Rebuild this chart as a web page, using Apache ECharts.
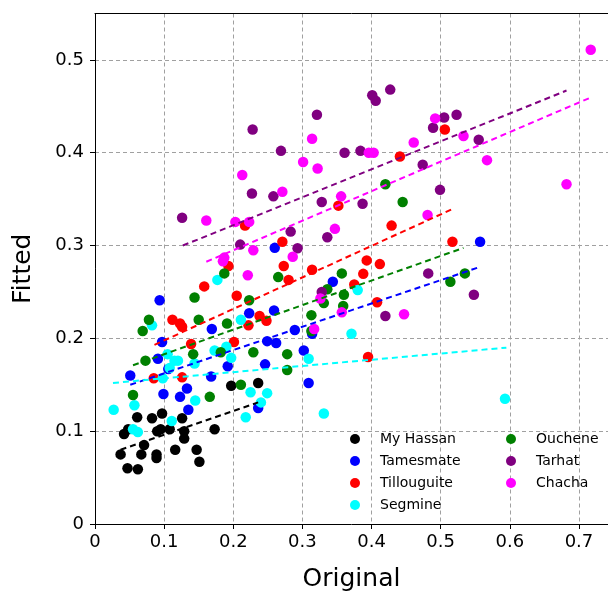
<!DOCTYPE html>
<html><head><meta charset="utf-8">
<script src="https://cdn.jsdelivr.net/npm/echarts@6/dist/echarts.min.js"></script>
<style>html,body{margin:0;padding:0;background:#fff}#c{width:608px;height:597px}</style>
</head><body><div id="c"></div>
<script>
const groupNames = ['My Hassan','Tamesmate','Tillouguite','Segmine','Ouchene','Tarhat','Chacha'];
const groupColors = ['#000000','#0000ff','#ff0000','#00ffff','#008000','#800080','#ff00ff'];
const xTicks = [0,0.1,0.2,0.3,0.4,0.5,0.6,0.7];
const yTicks = [0,0.1,0.2,0.3,0.4,0.5];

const hassanX = [0.061,0.0825,0.097,0.126,0.197,0.236,0.042,0.048,0.090,0.095,0.108,0.129,0.173,0.129,0.071,0.037,0.067,0.089,0.089,0.116,0.147,0.151,0.047,0.062];
const hassanY = [0.115,0.114,0.119,0.114,0.149,0.152,0.097,0.102,0.100,0.102,0.102,0.100,0.102,0.092,0.085,0.075,0.075,0.075,0.071,0.080,0.080,0.067,0.060,0.059];

const tamesmateX = [0.097,0.091,0.051,0.106,0.099,0.133,0.123,0.135,0.168,0.192,0.246,0.236,0.249,0.262,0.169,0.0935,0.223,0.259,0.260,0.344,0.289,0.314,0.302,0.309,0.557];
const tamesmateY = [0.196,0.178,0.160,0.167,0.140,0.146,0.137,0.123,0.159,0.170,0.172,0.125,0.197,0.195,0.210,0.241,0.227,0.230,0.2975,0.261,0.209,0.205,0.187,0.152,0.304];

const tillouguiteX = [0.085,0.126,0.139,0.201,0.112,0.123,0.126,0.158,0.205,0.193,0.217,0.222,0.238,0.248,0.271,0.273,0.352,0.429,0.517,0.314,0.280,0.393,0.412,0.388,0.375,0.408,0.395,0.506,0.441];
const tillouguiteY = [0.157,0.158,0.194,0.196,0.220,0.216,0.2125,0.256,0.246,0.278,0.3215,0.214,0.224,0.219,0.304,0.278,0.343,0.3215,0.304,0.274,0.263,0.284,0.280,0.2695,0.258,0.239,0.180,0.425,0.396];

const segmineX = [0.027,0.057,0.055,0.062,0.111,0.145,0.098,0.105,0.115,0.120,0.108,0.144,0.173,0.190,0.197,0.225,0.240,0.249,0.218,0.0825,0.177,0.211,0.380,0.371,0.309,0.331,0.593];
const segmineY = [0.123,0.128,0.102,0.099,0.111,0.133,0.157,0.183,0.176,0.176,0.168,0.173,0.187,0.191,0.179,0.142,0.131,0.141,0.115,0.214,0.263,0.220,0.252,0.205,0.178,0.119,0.135];

const oucheneX = [0.069,0.073,0.055,0.142,0.182,0.229,0.278,0.211,0.166,0.278,0.078,0.144,0.150,0.191,0.187,0.265,0.223,0.420,0.445,0.357,0.336,0.360,0.331,0.359,0.313,0.313,0.514,0.535];
const oucheneY = [0.208,0.176,0.139,0.183,0.185,0.185,0.183,0.150,0.137,0.166,0.220,0.244,0.220,0.216,0.270,0.266,0.241,0.366,0.347,0.270,0.253,0.247,0.238,0.235,0.225,0.208,0.261,0.270];

const tarhatX = [0.126,0.227,0.258,0.210,0.228,0.269,0.321,0.361,0.384,0.401,0.406,0.427,0.328,0.387,0.283,0.293,0.336,0.474,0.499,0.482,0.548,0.420,0.328,0.505,0.523,0.489,0.555];
const tarhatY = [0.330,0.356,0.353,0.301,0.425,0.402,0.441,0.400,0.402,0.462,0.456,0.468,0.347,0.345,0.315,0.297,0.309,0.387,0.360,0.270,0.247,0.224,0.250,0.438,0.441,0.427,0.414];

const chachaX = [0.213,0.161,0.203,0.223,0.271,0.229,0.187,0.185,0.221,0.286,0.314,0.301,0.322,0.356,0.396,0.403,0.347,0.481,0.447,0.357,0.326,0.317,0.717,0.492,0.461,0.533,0.567,0.682];
const chachaY = [0.376,0.327,0.3255,0.3255,0.358,0.295,0.287,0.283,0.268,0.288,0.415,0.390,0.383,0.353,0.400,0.400,0.318,0.333,0.226,0.228,0.243,0.210,0.511,0.437,0.411,0.418,0.392,0.366];

// fitted line endpoints [x0, x1], [y0, y1]
const fitX = [[0.037,0.236],[0.051,0.557],[0.086,0.516],[0.026,0.595],[0.055,0.533],[0.127,0.682],[0.161,0.717]];
const fitY = [[0.080,0.131],[0.150,0.277],[0.193,0.339],[0.152,0.190],[0.171,0.2975],[0.300,0.467],[0.2825,0.4595]];

const groupsX = [hassanX,tamesmateX,tillouguiteX,segmineX,oucheneX,tarhatX,chachaX];
const groupsY = [hassanY,tamesmateY,tillouguiteY,segmineY,oucheneY,tarhatY,chachaY];

const zip = (a,b) => a.map((v,i) => [v,b[i]]);
const series = [];
groupNames.forEach((name,i) => {
  series.push({
    type:'scatter', name:name, data: zip(groupsX[i],groupsY[i]),
    symbol:'circle', symbolSize:10.5, itemStyle:{color:groupColors[i], opacity:1},
    z: 3
  });
  series.push({
    type:'line', name:'fit'+i, data: zip(fitX[i],fitY[i]),
    symbol:'none', lineStyle:{color:groupColors[i], width:2, type:[6,4]},
    z: 4, silent:true
  });
});

const chart = echarts.init(document.getElementById('c'), null, {renderer:'canvas'});
const font = 'DejaVu Sans';
const legendCommon = {
  orient:'vertical', icon:'circle', itemWidth:40, itemHeight:10, itemGap:8,
  textStyle:{fontFamily:font, fontSize:14, color:'#000'}, selectedMode:false
};
const splitStyle = {show:true, lineStyle:{color:'#a0a0a0', type:[4,3], width:1}};
chart.setOption({
  animation:false,
  backgroundColor:'#fff',
  grid:{left:95, top:13.5, right:-3, bottom:72, show:false},
  legend:[
    Object.assign({data:groupNames.slice(0,4), left:345, top:427}, legendCommon),
    Object.assign({data:groupNames.slice(4), left:501, top:427}, legendCommon)
  ],
  xAxis:[{
    type:'value', min:xTicks[0], max:0.742, interval:0.1,
    name:'Original', nameLocation:'middle', nameGap:43,
    nameTextStyle:{fontFamily:font, fontSize:25, color:'#000'},
    axisLine:{show:true, onZero:false, lineStyle:{color:'#000', width:1}},
    axisTick:{show:true, length:5, lineStyle:{color:'#000'}},
    axisLabel:{fontFamily:font, fontSize:18, color:'#000', margin:9, showMaxLabel:false,
      formatter: v => xTicks.some(t => Math.abs(t-v)<1e-9) ? String(+v.toFixed(1)) : ''},
    splitLine:splitStyle
  },{
    type:'value', position:'top', min:xTicks[0], max:0.742, interval:0.1,
    axisLine:{show:true, onZero:false, lineStyle:{color:'#000', width:1}},
    axisTick:{show:false}, axisLabel:{show:false}, splitLine:{show:false}, z:10
  }],
  yAxis:{
    type:'value', min:yTicks[0], max:0.55, interval:0.1,
    name:'Fitted', nameLocation:'middle', nameGap:59, nameRotate:90,
    nameTextStyle:{fontFamily:font, fontSize:25, color:'#000'},
    axisLine:{show:true, onZero:false, lineStyle:{color:'#000', width:1}},
    axisTick:{show:true, length:5, lineStyle:{color:'#000'}},
    axisLabel:{fontFamily:font, fontSize:18, color:'#000', margin:11, showMaxLabel:false,
      formatter: v => yTicks.some(t => Math.abs(t-v)<1e-9) ? String(+v.toFixed(1)) : ''},
    splitLine:{show:true, interval: (idx, v) => true, lineStyle:{color:'#a0a0a0', type:[4,3], width:1}}
  },
  series: series
});
</script></body></html>
